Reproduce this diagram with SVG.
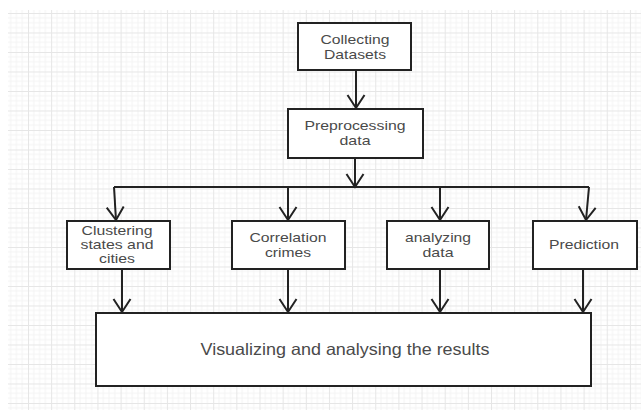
<svg xmlns="http://www.w3.org/2000/svg" width="641" height="410" viewBox="0 0 641 410">
  <defs>
    <pattern id="grid" patternUnits="userSpaceOnUse" x="4.85" y="13" width="23.15" height="19.5">
      <rect width="23.15" height="19.5" fill="#ffffff"/>
      <path d="M5.79 0V19.5M11.575 0V19.5M17.36 0V19.5M0 4.875H23.15M0 9.75H23.15M0 14.625H23.15" stroke="#f4f4f4" stroke-width="1" fill="none"/>
      <path d="M0.5 0V19.5M0 0.5H23.15" stroke="#e6e6e6" stroke-width="1" fill="none"/>
    </pattern>
    <marker id="arrow" markerUnits="userSpaceOnUse" markerWidth="30" markerHeight="30" refX="0" refY="0" orient="auto" overflow="visible">
      <path d="M-13,-8.5 L0,0 L-13,8.5" fill="none" stroke="#222" stroke-width="2" stroke-linejoin="miter"/>
    </marker>
    <style>
      .box { fill: #ffffff; stroke: #222222; stroke-width: 2; }
      .lbl { font-family: "Liberation Sans", Arial, Helvetica, sans-serif; font-size: 13px; fill: #4a4a4a; text-anchor: middle; }
      .big { font-size: 16.5px; }
      .edge { fill: none; stroke: #222222; stroke-width: 2; }
      .arr { marker-end: url(#arrow); }
    </style>
  </defs>

  <rect x="0" y="0" width="641" height="410" fill="#ffffff"/>
  <rect x="8" y="10" width="633" height="400" fill="url(#grid)"/>

  <g id="connectors">
    <path class="edge arr" d="M356 71 L356 108"/>
    <path class="edge arr" d="M355 158 L355 187"/>
    <path class="edge" d="M114 187 L589 187"/>
    <path class="edge arr" d="M114 187 L116 220"/>
    <path class="edge arr" d="M288 187 L288 220"/>
    <path class="edge arr" d="M440 187 L440 220"/>
    <path class="edge arr" d="M589 187 L586 220"/>
    <path class="edge arr" d="M122 269 L122 312"/>
    <path class="edge arr" d="M288 269 L288 312"/>
    <path class="edge arr" d="M440 269 L440 312"/>
    <path class="edge arr" d="M583 269 L583 312"/>
  </g>

  <g id="collecting">
    <rect class="box" x="298" y="23" width="113" height="47"/>
    <text class="lbl" x="355" y="44" textLength="69" lengthAdjust="spacingAndGlyphs">Collecting</text>
    <text class="lbl" x="355" y="59" textLength="62" lengthAdjust="spacingAndGlyphs">Datasets</text>
  </g>

  <g id="preprocessing">
    <rect class="box" x="288" y="109" width="135" height="49"/>
    <text class="lbl" x="355" y="130" textLength="101" lengthAdjust="spacingAndGlyphs">Preprocessing</text>
    <text class="lbl" x="355" y="145" textLength="31" lengthAdjust="spacingAndGlyphs">data</text>
  </g>

  <g id="clustering">
    <rect class="box" x="67" y="221" width="103" height="48"/>
    <text class="lbl" x="117" y="235" textLength="71" lengthAdjust="spacingAndGlyphs">Clustering</text>
    <text class="lbl" x="117" y="249" textLength="73" lengthAdjust="spacingAndGlyphs">states and</text>
    <text class="lbl" x="117" y="263" textLength="36" lengthAdjust="spacingAndGlyphs">cities</text>
  </g>

  <g id="correlation">
    <rect class="box" x="232" y="221" width="113" height="48"/>
    <text class="lbl" x="288" y="242" textLength="77" lengthAdjust="spacingAndGlyphs">Correlation</text>
    <text class="lbl" x="288" y="257" textLength="46" lengthAdjust="spacingAndGlyphs">crimes</text>
  </g>

  <g id="analyzing">
    <rect class="box" x="387" y="221" width="102" height="48"/>
    <text class="lbl" x="438" y="242" textLength="66" lengthAdjust="spacingAndGlyphs">analyzing</text>
    <text class="lbl" x="438" y="257" textLength="31" lengthAdjust="spacingAndGlyphs">data</text>
  </g>

  <g id="prediction">
    <rect class="box" x="533" y="221" width="104" height="48"/>
    <text class="lbl" x="584" y="249" textLength="70" lengthAdjust="spacingAndGlyphs">Prediction</text>
  </g>

  <g id="visualizing">
    <rect class="box" x="96" y="313" width="495" height="73"/>
    <text class="lbl big" x="345" y="355" textLength="289" lengthAdjust="spacingAndGlyphs">Visualizing and analysing the results</text>
  </g>
</svg>
